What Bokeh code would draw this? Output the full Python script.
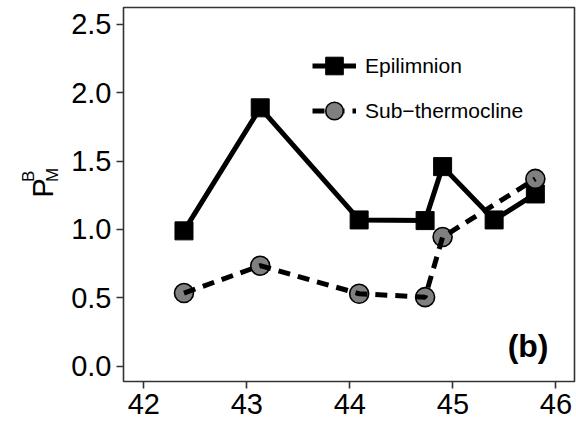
import math
from bokeh.plotting import figure
from bokeh.layouts import row
from bokeh.models import (ColumnDataSource, Legend, LegendItem, Label, Range1d,
                          FixedTicker, PrintfTickFormatter)
from bokeh.core.properties import value
from bokeh.embed import file_html
from bokeh.resources import INLINE

# ---- data ----
epi_depth = [42.39, 43.13, 44.09, 44.73, 44.90, 45.40, 45.80]
epi_pbm = [0.99, 1.89, 1.07, 1.065, 1.46, 1.07, 1.26]
sub_depth = [42.39, 43.13, 44.09, 44.73, 44.90, 45.80]
sub_pbm = [0.535, 0.735, 0.53, 0.505, 0.945, 1.37]
series_names = ["Epilimnion", "Sub\u2212thermocline"]
x_ticks = [42, 43, 44, 45, 46]
y_ticks = [0.0, 0.5, 1.0, 1.5, 2.0, 2.5]
panel_tag = "(b)"
y_title = ["P", "B", "M"]   # P with superscript B and subscript M

FONT = "Liberation Sans"
LEFT_W = 60
W, H = 576, 421

# ---- narrow strip that carries the y-axis title (pixel-like coordinates) ----
t = figure(width=LEFT_W, height=H, output_backend="svg", toolbar_location=None,
           x_range=Range1d(0, LEFT_W), y_range=Range1d(H, 0),
           x_axis_type=None, y_axis_type=None,
           min_border=0, min_border_left=0, min_border_right=0,
           min_border_top=0, min_border_bottom=0)
t.outline_line_color = None
t.xgrid.visible = False
t.ygrid.visible = False
t.background_fill_color = "white"
t.border_fill_color = "white"
title_src = ColumnDataSource(dict(
    x=[42.0, 28.3, 51.5],
    y=[214.0, 196.5, 196.5],
    text=y_title,
    size=["29px", "17px", "17px"],
))
t.text("x", "y", text="text", source=title_src, angle=math.pi / 2,
       text_font=value(FONT), text_font_size="size", text_color="black",
       text_align="left", text_baseline="alphabetic")

# ---- main plot ----
p = figure(width=W - LEFT_W, height=H, output_backend="svg", toolbar_location=None,
           x_range=Range1d(41.803, 46.18), y_range=Range1d(-0.112, 2.624),
           min_border_left=123 - LEFT_W, min_border_right=2, min_border_top=7,
           min_border_bottom=40)
p.background_fill_color = "white"
p.border_fill_color = "white"
p.outline_line_color = "#333333"
p.outline_line_width = 1.6
p.xgrid.visible = False
p.ygrid.visible = False

for ax in (p.xaxis[0], p.yaxis[0]):
    ax.axis_line_color = None
    ax.major_tick_line_color = "#333333"
    ax.major_tick_line_width = 1.6
    ax.major_tick_out = 7
    ax.major_tick_in = 0
    ax.minor_tick_line_color = None
    ax.major_label_text_font = FONT
    ax.major_label_text_font_size = "29px"
    ax.major_label_text_color = "black"
    ax.major_label_standoff = 5

p.xaxis[0].ticker = FixedTicker(ticks=x_ticks)
p.yaxis[0].ticker = FixedTicker(ticks=y_ticks)
p.xaxis[0].formatter = PrintfTickFormatter(format="%d")
p.yaxis[0].formatter = PrintfTickFormatter(format="%.1f")

epi_src = ColumnDataSource(dict(x=epi_depth, y=epi_pbm))
sub_src = ColumnDataSource(dict(x=sub_depth, y=sub_pbm))

epi_pts = p.scatter("x", "y", source=epi_src, marker="square", size=18,
                    fill_color="black", line_color="black", line_width=1)
sub_pts = p.scatter("x", "y", source=sub_src, marker="circle", size=19,
                    fill_color="#808080", line_color="black", line_width=1.6)
epi_line = p.line("x", "y", source=epi_src, line_color="black", line_width=5)
sub_line = p.line("x", "y", source=sub_src, line_color="black", line_width=5,
                  line_dash="12 8")

legend = Legend(items=[LegendItem(label=series_names[0], renderers=[epi_line, epi_pts]),
                       LegendItem(label=series_names[1], renderers=[sub_line, sub_pts])],
                location=(189, 248), orientation="vertical",
                padding=0, margin=0, spacing=0,
                glyph_width=44, glyph_height=45, label_standoff=9,
                label_text_font=FONT, label_text_font_size="21px",
                label_text_color="black", label_height=45,
                border_line_alpha=0, background_fill_alpha=0)
p.add_layout(legend)

p.add_layout(Label(x=425, y=36, x_units="screen", y_units="screen", text=panel_tag,
                   text_font=FONT, text_font_size="32px", text_font_style="bold",
                   text_align="right", text_baseline="middle", text_color="black"))

layout = row(t, p, spacing=0)
open("out.html", "w").write(file_html(layout, INLINE))
